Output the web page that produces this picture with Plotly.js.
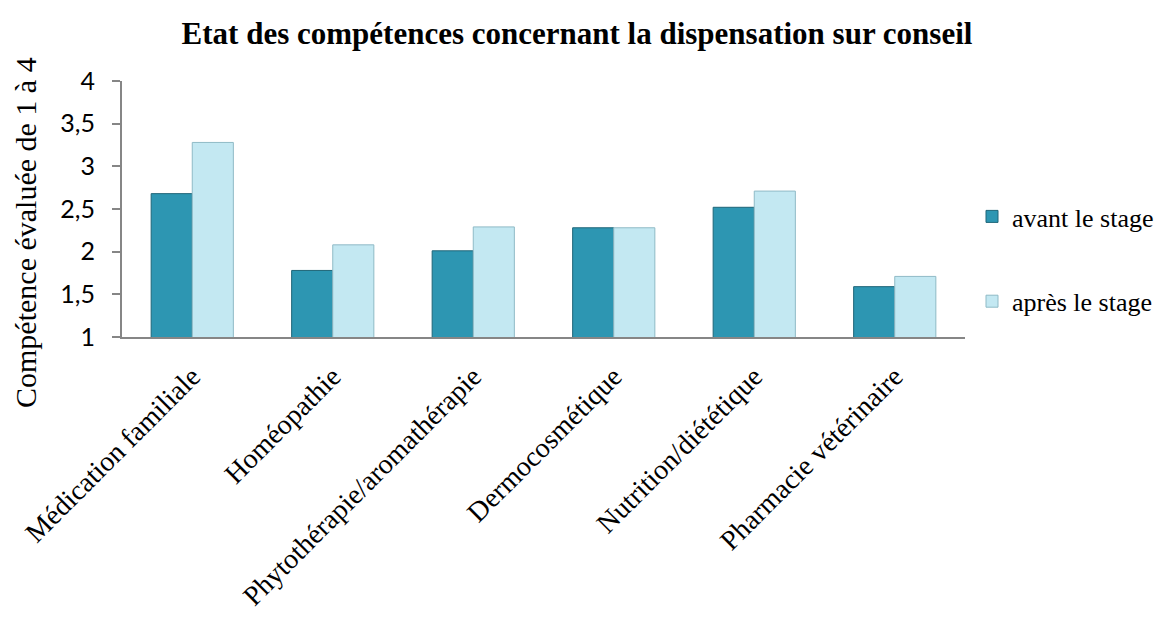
<!DOCTYPE html>
<html>
<head>
<meta charset="utf-8">
<script src="https://cdn.plot.ly/plotly-3.0.1.min.js"></script>
<style>html,body{margin:0;padding:0;background:#fff;}#chart{width:1154px;height:619px;}</style>
</head>
<body>
<div id="chart"></div>
<script>
var categories = ["Médication familiale", "Homéopathie", "Phytothérapie/aromathérapie", "Dermocosmétique", "Nutrition/diététique", "Pharmacie vétérinaire"];
var avantValues = [2.68, 1.78, 2.01, 2.28, 2.52, 1.59];
var apresValues = [3.28, 2.08, 2.29, 2.28, 2.71, 1.71];
var seriesNames = ["avant le stage", "après le stage"];
var yTickValues = [1, 1.5, 2, 2.5, 3, 3.5, 4];
var yTickLabels = ["1", "1,5", "2", "2,5", "3", "3,5", "4"];
var yTitle = "Compétence évaluée de 1 à 4";

var traces = [
  {type: "bar", name: seriesNames[0], x: categories, y: avantValues, legendgroup: "a",
   marker: {color: "#2D96B2", line: {color: "#1E6578", width: 1}}},
  {type: "bar", name: seriesNames[1], x: categories, y: apresValues, legendgroup: "b",
   marker: {color: "#C3E8F2", line: {color: "#8FBAC6", width: 1}}}
];

var layout = {
  width: 1154, height: 619,
  paper_bgcolor: "#fff", plot_bgcolor: "#fff",
  margin: {l: 122, r: 189, t: 81, b: 282},
  separators: ", ",
  title: {text: "<b>Etat des compétences concernant la dispensation sur conseil</b>",
          font: {family: "Liberation Serif", size: 31, color: "#000"},
          x: 0.5, xanchor: "center", xref: "container", y: 1 - 33/619, yanchor: "middle", yref: "container"},
  barmode: "group", bargap: 0.415, bargroupgap: 0,
  showlegend: true,
  legend: {x: 972/1154, xref: "container", y: 1 - 193/619, yref: "container", xanchor: "left", yanchor: "top",
           font: {family: "Liberation Serif", size: 26, color: "#000"}, traceorder: "grouped", tracegroupgap: 48,
           itemwidth: 30, bgcolor: "rgba(0,0,0,0)"},
  xaxis: {type: "category", tickangle: -45, showgrid: false, zeroline: false,
          showline: true, linecolor: "#868686", linewidth: 2, ticks: "", ticklabelstandoff: 10,
          tickfont: {family: "Liberation Serif", size: 28, color: "#000"}},
  yaxis: {range: [1, 4], tickvals: yTickValues, ticktext: yTickLabels,
          showgrid: false, zeroline: false, showline: true, linecolor: "#868686", linewidth: 2,
          ticks: "outside", ticklen: 8, tickcolor: "#868686", tickwidth: 2, ticklabelstandoff: 12,
          tickfont: {family: "Lato", size: 25, color: "#000"}},
  annotations: [{text: yTitle, textangle: -90, xref: "paper", yref: "paper",
                 x: (25 - 122) / 843, y: (337 - 233) / 256, xanchor: "center", yanchor: "middle", showarrow: false,
                 font: {family: "Liberation Serif", size: 30, color: "#000"}}]
};

Plotly.newPlot("chart", traces, layout, {displayModeBar: false, staticPlot: true});
</script>
</body>
</html>
